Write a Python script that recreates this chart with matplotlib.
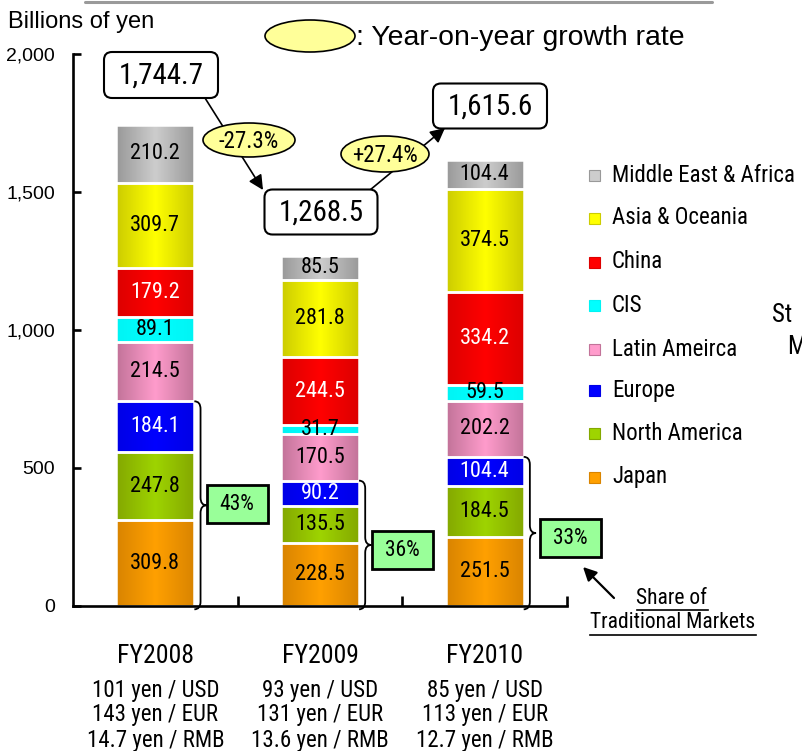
import numpy as np
import matplotlib
matplotlib.use('Agg')
import matplotlib.pyplot as plt
from matplotlib.colors import LinearSegmentedColormap
from matplotlib.patches import Ellipse, FancyBboxPatch, Rectangle, PathPatch
from matplotlib.path import Path

# data (billions of yen)
years = ['FY2008', 'FY2009', 'FY2010']
regions = ['Japan', 'North America', 'Europe', 'Latin Ameirca', 'CIS',
           'China', 'Asia & Oceania', 'Middle East & Africa']
japan = [309.8, 228.5, 251.5]
north_america = [247.8, 135.5, 184.5]
europe = [184.1, 90.2, 104.4]
latin_america = [214.5, 170.5, 202.2]
cis = [89.1, 31.7, 59.5]
china = [179.2, 244.5, 334.2]
asia_oceania = [309.7, 281.8, 374.5]
middle_east_africa = [210.2, 85.5, 104.4]
totals = ['1,744.7', '1,268.5', '1,615.6']
growth = ['-27.3%', '+27.4%']
traditional_share = ['43%', '36%', '33%']
usd_rate = ['101 yen / USD', '93 yen / USD', '85 yen / USD']
eur_rate = ['143 yen / EUR', '131 yen / EUR', '113 yen / EUR']
rmb_rate = ['14.7 yen / RMB', '13.6 yen / RMB', '12.7 yen / RMB']

series = [japan, north_america, europe, latin_america, cis, china,
          asia_oceania, middle_east_africa]
# (edge shade, centre shade, label colour)
styles = [('#d98400', '#ffa000', 'black'),
          ('#84a800', '#9ed400', 'black'),
          ('#0000e6', '#0000ff', 'white'),
          ('#c27399', '#ff9ccc', 'black'),
          ('#00f4f4', '#00ffff', 'black'),
          ('#dc0000', '#ff0000', 'white'),
          ('#cccc00', '#ffff00', 'black'),
          ('#999999', '#cdcdcd', 'black')]

NARROW = ['Roboto Condensed', 'Archivo Narrow', 'Liberation Sans']
REG = ['Liberation Sans', 'DejaVu Sans']

fig = plt.figure(figsize=(8.02, 7.51), dpi=100)
ax = fig.add_axes([73 / 802, 145 / 751, 494 / 802, 552 / 751])

x = np.arange(len(years))
width = 0.474
bottom = np.zeros(len(years))
tops = []
for vals, (dark, light, tc) in zip(series, styles):
    cm = LinearSegmentedColormap.from_list('g', [dark, light, dark])
    bars = ax.bar(x, vals, width, bottom=bottom, facecolor='none',
                  edgecolor='white', linewidth=1.8, zorder=2.2)
    for b, v, b0 in zip(bars, vals, bottom):
        im = ax.imshow(np.linspace(0, 1, 64)[None, :], cmap=cm, aspect='auto',
                       extent=(b.get_x(), b.get_x() + b.get_width(), b0, b0 + v),
                       zorder=2)
        im.set_clip_path(b)
        ax.text(b.get_x() + b.get_width() / 2, b0 + v / 2, f'{v:.1f}',
                ha='center', va='center', color=tc, fontsize=16,
                family=NARROW, zorder=4)
    bottom = bottom + np.array(vals)
    tops.append(bottom.copy())

ax.set_xlim(-0.5, 2.5)
ax.set_ylim(0, 2000)
for s in ['top', 'right']:
    ax.spines[s].set_visible(False)
for s in ['left', 'bottom']:
    ax.spines[s].set_linewidth(1.9)
ax.set_yticks([0, 500, 1000, 1500, 2000])
ax.set_yticklabels(['0', '500', '1,000', '1,500', '2,000'], family=REG, fontsize=14)
ax.tick_params(axis='y', direction='in', length=6, width=1.9, pad=13)
ax.set_xticks([0.5, 1.5, 2.5])
ax.set_xticklabels([])
ax.tick_params(axis='x', direction='in', length=7.5, width=1.9)

# braces around the traditional markets (Japan + North America + Europe)
trad_top = tops[2]
for i in range(len(years)):
    x0 = i + width / 2
    dx = 0.075
    xm, x1 = x0 + dx / 2, x0 + dx
    yt, yb = trad_top[i], -12
    ym = (yt + yb) / 2
    r = 28
    verts = [(x0, yt), (xm, yt), (xm, yt - r), (xm, ym + r), (xm, ym), (x1, ym),
             (xm, ym), (xm, ym - r), (xm, yb + r), (xm, yb), (x0, yb)]
    codes = [Path.MOVETO, Path.CURVE3, Path.CURVE3, Path.LINETO, Path.CURVE3,
             Path.CURVE3, Path.CURVE3, Path.CURVE3, Path.LINETO, Path.CURVE3,
             Path.CURVE3]
    ax.add_patch(PathPatch(Path(verts, codes), fill=False, lw=1.3,
                           edgecolor='black', clip_on=False, zorder=4))

# category labels and exchange rates under the bars
def yfrac(py):
    return (606 - py) / 552

xt = ax.get_xaxis_transform()
for i in range(len(years)):
    ax.text(i, yfrac(656), years[i], transform=xt, ha='center', va='center',
            fontsize=18.5, family=NARROW)
    for py, t in zip([690, 715, 740], [usd_rate[i], eur_rate[i], rmb_rate[i]]):
        ax.text(i, yfrac(py), t, transform=xt, ha='center', va='center',
                fontsize=16.5, family=NARROW)

# overlay in pixel coordinates for the annotations
ov = fig.add_axes([0, 0, 1, 1], zorder=5)
ov.set_xlim(0, 802)
ov.set_ylim(751, 0)
ov.axis('off')
ov.patch.set_visible(False)

ov.plot([85, 712], [1.5, 1.5], color='#9a9a9a', lw=2.2, solid_capstyle='round')
ov.text(8, 22, 'Billions of yen', fontsize=17, family=REG, va='center', ha='left')

ov.add_patch(Ellipse((310, 36), 90, 32, facecolor='#ffff99', edgecolor='black', lw=1.2))
ov.text(356, 38, ': Year-on-year growth rate', fontsize=20.4, family=REG,
        va='center', ha='left')

# growth arrows
for (x0, y0), (x1, y1) in [((205, 98), (263, 190)), ((370, 190), (445, 128))]:
    ov.annotate('', xy=(x1, y1), xytext=(x0, y0),
                arrowprops=dict(arrowstyle='-|>', lw=1.2, color='black',
                                mutation_scale=22, shrinkA=0, shrinkB=0))

box_pos = [(161, 75, 114, 46), (321, 212, 113, 45), (490, 106, 114, 45)]
for (cx, cy, w, h), t in zip(box_pos, totals):
    ov.add_patch(FancyBboxPatch((cx - w / 2, cy - h / 2), w, h,
                                boxstyle='round,pad=0,rounding_size=8',
                                facecolor='white', edgecolor='black', lw=1.5, zorder=3))
    ov.text(cx, cy + 1, t, ha='center', va='center', fontsize=21, family=NARROW, zorder=4)

for (cx, cy, w, h), t in zip([(249, 140, 92, 34), (385, 154, 88, 36)], growth):
    ov.add_patch(Ellipse((cx, cy), w, h, facecolor='#ffff99', edgecolor='black',
                         lw=1.2, zorder=3))
    ov.text(cx, cy + 1, t, ha='center', va='center', fontsize=16.5, family=NARROW, zorder=4)

for (cx, cy), t in zip([(237, 504), (402, 550), (570, 538)], traditional_share):
    ov.add_patch(Rectangle((cx - 30.5, cy - 19), 61, 38, facecolor='#99ff99',
                           edgecolor='black', lw=2, zorder=3))
    ov.text(cx, cy + 1, t, ha='center', va='center', fontsize=15.5, family=NARROW, zorder=4)

ov.annotate('', xy=(583, 567), xytext=(614, 598),
            arrowprops=dict(arrowstyle='-|>', lw=1.6, color='black',
                            mutation_scale=20, shrinkA=0, shrinkB=0))
t1 = ov.text(672, 598, 'Share of', ha='center', va='center', fontsize=15.5, family=NARROW)
t2 = ov.text(673, 623, 'Traditional Markets', ha='center', va='center', fontsize=15.5,
             family=NARROW)

# legend
leg_y = [477, 433, 390, 349, 305, 262, 218, 175]
for py, name, (dark, light, tc) in zip(leg_y, regions, styles):
    ov.add_patch(Rectangle((589, py - 5.5), 11, 11, facecolor=light, edgecolor=dark, lw=0.8))
    ov.text(612, py, name, ha='left', va='center', fontsize=16.5, family=NARROW)

ov.text(772, 315, 'St', ha='left', va='center', fontsize=18, family=NARROW)
ov.text(787, 347, 'M', ha='left', va='center', fontsize=18, family=NARROW)

# underline the share label
fig.canvas.draw()
inv = ov.transData.inverted()
for t in (t1, t2):
    bb = t.get_window_extent()
    (xa, ya), (xb, yb) = inv.transform([(bb.x0, bb.y0), (bb.x1, bb.y1)])
    ov.plot([xa, xb], [ya + 1, ya + 1], color='black', lw=1.2)

fig.savefig('out.png', dpi=100)
